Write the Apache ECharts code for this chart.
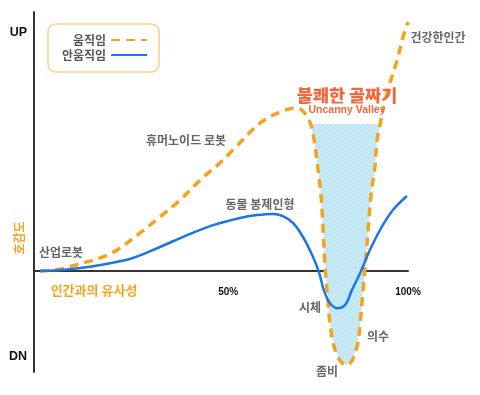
<!DOCTYPE html>
<html><head><meta charset="utf-8">
<script src="https://cdn.jsdelivr.net/npm/echarts@6/dist/echarts.min.js"></script>
<style>html,body{margin:0;padding:0;background:#fff}#c{width:480px;height:395px}</style>
</head><body><div id="c"></div>
<script>
// ---- data ----
const seriesNames = ['움직임', '안움직임'];
// 움직임 (moving) curve: similarity (%) , affinity
const moveX = [-2.3, 3.2, 9.6, 14.4, 19.1, 25.5, 31.0, 36.6, 42.2, 47.7, 51.3, 58.9, 64.4, 69.1, 70.8, 72.8, 73.9, 75.0, 75.8, 76.4, 76.9, 77.5, 78.3, 79.7, 81.4, 82.8, 84.2, 85.8, 86.7, 87.5, 88.3, 88.9, 89.7, 90.8, 91.4, 92.2, 93.1, 94.4, 97.0, 98.6, 100];
const moveY = [0, 0.8, 3.4, 5.5, 8.8, 16.0, 22.7, 29.8, 38.2, 45.4, 50.8, 62.2, 66.8, 68.5, 67.2, 62.2, 55.0, 42.4, 31.9, 17.2, 2.5, -8.0, -21.9, -33.2, -38.2, -39.5, -38.2, -31.9, -21.9, -8.0, 5.9, 17.2, 31.9, 43.7, 55.0, 61.3, 67.7, 76.1, 88.7, 98.3, 104.6];
// 안움직임 (still) curve
const stillX = [-2.3, 6.0, 14.4, 23.5, 31.0, 38.6, 45.8, 53.3, 58.0, 62.5, 65.2, 68.0, 70.8, 73.6, 75.3, 76.6, 78.3, 80.5, 82.5, 84.4, 86.7, 89.4, 92.2, 95.8, 99.7];
const stillY = [0, 0.8, 2.5, 5.5, 10.1, 15.1, 19.3, 22.3, 23.5, 24.0, 23.1, 20.2, 14.3, 5.9, -0.8, -8.0, -13.5, -15.6, -14.3, -8.0, -0.8, 8.8, 17.2, 25.6, 31.5];
const valleyTop = 61.8;           // affinity level where the shaded valley starts
const xTickValues = [50, 100];
const yTickValues = [100, -36];
const yTickLabels = ['UP', 'DN'];

const movePts = moveX.map((x, i) => [x, moveY[i]]);
const stillPts = stillX.map((x, i) => [x, stillY[i]]);

// valley polygon from the moving curve, below valleyTop
function valleyPolygon() {
  let m = 0;
  movePts.forEach((p, i) => { if (p[1] < movePts[m][1]) m = i; });
  let l = m; while (l > 0 && movePts[l - 1][1] < valleyTop) l--;
  let r = m; while (r < movePts.length - 1 && movePts[r + 1][1] < valleyTop) r++;
  const cross = (a, b) => { const t = (valleyTop - a[1]) / (b[1] - a[1]); return [a[0] + t * (b[0] - a[0]), valleyTop]; };
  const pts = [cross(movePts[l - 1], movePts[l])];
  for (let i = l; i <= r; i++) pts.push(movePts[i]);
  pts.push(cross(movePts[r], movePts[r + 1]));
  return pts;
}
const valleyPts = valleyPolygon();

// hatch pattern
const pc = document.createElement('canvas'); pc.width = pc.height = 4;
const g = pc.getContext('2d');
g.fillStyle = '#BCE5F7'; g.fillRect(0, 0, 4, 4);
g.strokeStyle = '#DAF1FB'; g.lineWidth = 1;
g.beginPath(); g.moveTo(-1, -1); g.lineTo(5, 5); g.moveTo(-1, 3); g.lineTo(1, 5); g.moveTo(3, -1); g.lineTo(5, 1); g.stroke();

const ORANGE = '#F7A21B', BLUE = '#1976E6', GRAY = '#666', RED = '#F2683C';
const KR = 'Noto Sans CJK KR';
function t(text, x, y, opt, rot) {
  return { type: 'text', x: x, y: y, z: 10, rotation: rot || 0,
    style: Object.assign({ text: text, fontFamily: KR, fontWeight: 'bold', fontSize: 12, fill: GRAY, align: 'center', verticalAlign: 'middle' }, opt || {}) };
}

const chart = echarts.init(document.getElementById('c'));
chart.setOption({
  animation: false,
  grid: { left: 34, right: 72, top: 12, bottom: 23, containLabel: false, outerBoundsMode: 'none' },
  legend: {
    data: seriesNames, orient: 'vertical', left: 48, top: 24, align: 'right',
    itemWidth: 36, itemHeight: 12, itemGap: 3,
    itemStyle: { opacity: 0, borderWidth: 0 },
    borderColor: '#FDD08A', borderWidth: 1.5, borderRadius: 8, padding: [10, 11, 11, 14],
    textStyle: { color: '#555', fontWeight: 'bold', fontSize: 12, fontFamily: KR, width: 46 }
  },
  xAxis: {
    type: 'value', min: -4, max: 100, offset: -101,
    axisLine: { onZero: false, lineStyle: { color: '#3a3232', width: 2 } },
    axisTick: { show: false }, splitLine: { show: false },
    axisLabel: { customValues: xTickValues, formatter: v => v + '%', color: '#111', fontWeight: 'bold', fontSize: 10, fontFamily: 'Liberation Sans', margin: 16 }
  },
  yAxis: {
    type: 'value', min: -42.4, max: 108.8,
    axisLine: { show: true, onZero: false, lineStyle: { color: '#3a3232', width: 2 } },
    axisTick: { show: false }, splitLine: { show: false },
    axisLabel: { customValues: yTickValues, formatter: v => yTickLabels[yTickValues.indexOf(v)], color: '#111', fontWeight: 'bold', fontSize: 12.5, fontFamily: 'Liberation Sans', margin: 7 }
  },
  series: [
    {
      type: 'custom', silent: true, z: 1, data: [[0, 0]],
      renderItem: (params, api) => ({
        type: 'polygon', shape: { points: valleyPts.map(p => api.coord(p)) },
        style: { fill: { image: pc, repeat: 'repeat' } }
      })
    },
    { name: seriesNames[0], type: 'line', data: movePts, smooth: 0.35, symbol: 'none', showSymbol: false, z: 3,
      lineStyle: { color: ORANGE, width: 3.5, type: [9, 6] }, itemStyle: { color: ORANGE } },
    { name: seriesNames[1], type: 'line', data: stillPts, smooth: 0.35, symbol: 'none', showSymbol: false, z: 4,
      lineStyle: { color: BLUE, width: 2.5 }, itemStyle: { color: BLUE } }
  ],
  graphic: [
    t('호감도', 19, 238, { fill: ORANGE }, Math.PI / 2),
    t('인간과의 유사성', 94, 290, { fill: ORANGE, fontSize: 13 }),
    t('산업로봇', 61, 252),
    t('휴머노이드 로봇', 186, 140),
    t('동물 봉제인형', 260, 204),
    t('건강한인간', 438, 37),
    t('시체', 310, 307),
    t('의수', 378, 336),
    t('좀비', 327, 371),
    t('불쾌한 골짜기', 347, 95, { fill: RED, fontSize: 17.5, fontWeight: 900, textBorderColor: '#fff', textBorderWidth: 3 }),
    t('Uncanny Valley', 347, 110, { fill: RED, fontSize: 10.5, fontFamily: 'Liberation Sans', textBorderColor: '#fff', textBorderWidth: 2 })
  ]
});
</script></body></html>
